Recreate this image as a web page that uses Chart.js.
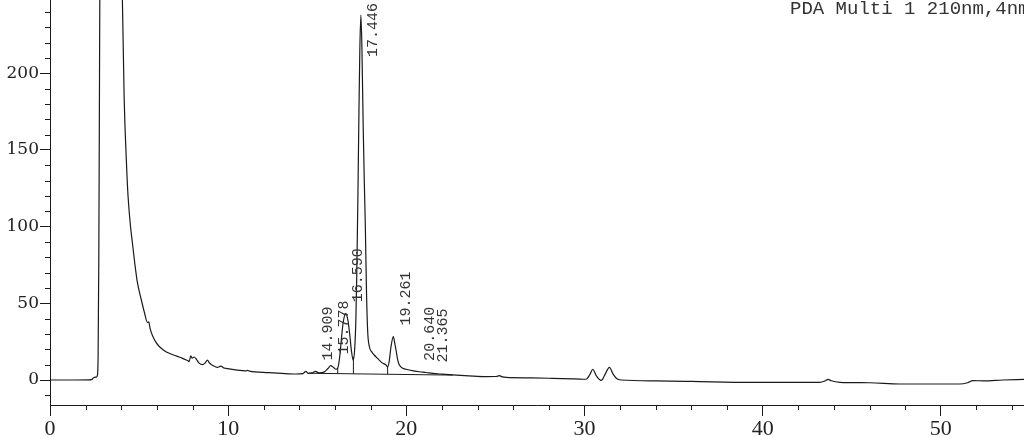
<!DOCTYPE html>
<html>
<head>
<meta charset="utf-8">
<script src="https://cdn.jsdelivr.net/npm/chart.js@4.4.1/dist/chart.umd.min.js"></script>
<style>
  html, body { margin: 0; padding: 0; background: #fff; }
  #wrap { width: 1024px; height: 437px; }
</style>
</head>
<body>
<div id="wrap"><canvas id="chart"></canvas></div>
<script>
// chromatogram trace, retention time (min) and signal (mAU)
const times = [0, 1.0, 2.2, 2.35, 2.45, 2.6, 2.66, 2.70, 2.74, 2.78, 2.82, 3.0, 3.3, 3.6, 3.85, 4.0, 4.06, 4.16, 4.29, 4.38,
  4.53, 4.62, 4.76, 4.9, 5.13, 5.3, 5.47, 5.54, 5.62, 5.75, 5.95, 6.12, 6.4, 6.69, 7.0, 7.25, 7.5, 7.62, 7.75, 7.81,
  7.9, 7.98, 8.08, 8.22, 8.37, 8.56, 8.7, 8.84, 8.95, 9.12, 9.4, 9.59, 9.75, 9.87, 10.4, 11.0, 11.08, 11.2, 12.3, 13.0,
  13.8, 14.2, 14.36, 14.5, 14.7, 14.9, 15.1, 15.4, 15.6, 15.76, 15.9, 16.05, 16.15, 16.25, 16.35, 16.45, 16.6, 16.72, 16.82, 16.92,
  17.02, 17.1, 17.17, 17.22, 17.28, 17.33, 17.39, 17.45, 17.51, 17.58, 17.64, 17.70, 17.76, 17.83, 17.92, 18.05, 18.2, 18.35, 18.48, 18.67,
  18.86, 18.95, 19.05, 19.14, 19.27, 19.35, 19.42, 19.52, 19.61, 19.8, 19.98, 20.4, 20.73, 21.1, 21.48, 22.0, 22.6, 23.5, 24.48, 25.05,
  25.22, 25.4, 25.6, 27.0, 28.2, 29.5, 30.1, 30.3, 30.47, 30.65, 30.94, 31.15, 31.4, 31.6, 31.8, 32.06, 34.0, 36.0, 39.27, 43.2,
  43.5, 43.67, 43.85, 44.33, 46.0, 47.7, 51.07, 51.5, 51.8, 52.4, 53.5, 54.67];
const signal = [0, 0, 0.1, 0.4, 1.5, 1.9, 3, 15, 80, 200, 320, 650, 800, 650, 420, 300, 250, 185, 142, 120,
  99, 90, 76, 64, 52, 44, 37.5, 38, 33.5, 29, 24.5, 22, 19.3, 17.4, 16, 15, 13.8, 13.2, 12.5, 11.9,
  15.8, 14.2, 15, 13.5, 11, 10, 11, 13, 11, 9.6, 8.2, 9.1, 7.9, 7.6, 6.6, 5.9, 6.3, 5.8, 4.8, 4.3,
  3.9, 4.2, 5.6, 4.3, 4.6, 5.6, 4.7, 5.3, 7.5, 9.4, 8.3, 7.0, 7.8, 14, 26, 37, 43.5, 39, 30, 19,
  13, 20, 40, 70, 117, 165, 215, 238, 215, 165, 130, 100, 60, 32, 22, 18.5, 16.3, 14.5, 13, 11,
  9.8, 8.5, 13, 21.7, 28.3, 24, 19.6, 13, 9.8, 7.6, 7, 6, 5.4, 4.9, 4.3, 3.8, 3.3, 2.7, 2.2, 2.3,
  2.8, 2.0, 1.7, 1.4, 1.1, 0.7, 0.5, 3.5, 7, 3, -0.3, 3.5, 8.3, 4, 1, 0, -0.6, -0.9, -1.5, -1.5,
  -0.6, 0.4, -0.5, -1.5, -1.8, -2.6, -2.6, -1.8, -0.4, -0.6, 0, 0.4];

// integrated peaks
const peakTimes = [14.909, 15.778, 16.590, 17.446, 19.261, 20.640, 21.365];
const peakHeights = [5.6, 9.4, 43.5, 238, 28.3, 5.3, 4.3];

// integration baseline and drop lines
const baselineTimes = [14.55, 22.6];
const baselineValues = [4.4, 3.2];
const dropTimes = [16.15, 17.03, 18.95];
const dropTops = [7.8, 15.2, 8.5];

const titleText = 'PDA Multi 1 210nm,4nm';

function baselineAt(t) {
  const f = (t - baselineTimes[0]) / (baselineTimes[1] - baselineTimes[0]);
  return baselineValues[0] + f * (baselineValues[1] - baselineValues[0]);
}

const tracePoints = times.map((t, i) => ({ x: t, y: signal[i] }));
const basePoints = baselineTimes.map((t, i) => ({ x: t, y: baselineValues[i] }));
const dropPoints = [];
dropTimes.forEach((t, i) => {
  dropPoints.push({ x: t, y: baselineAt(t) });
  dropPoints.push({ x: t, y: dropTops[i] });
  dropPoints.push({ x: t, y: null });
});

const ink = '#1a1a1a';

const minorTicks = {
  id: 'minorTicks',
  afterDraw(chart) {
    const ctx = chart.ctx;
    const xs = chart.scales.x, ys = chart.scales.y;
    ctx.save();
    ctx.strokeStyle = ink;
    ctx.lineWidth = 1;
    ctx.beginPath();
    for (let v = 2; v <= xs.max; v += 2) {
      if (v % 10 === 0) continue;
      const px = Math.round(xs.getPixelForValue(v)) + 0.5;
      ctx.moveTo(px, xs.top);
      ctx.lineTo(px, xs.top + 5);
    }
    for (let v = -10; v <= ys.max; v += 10) {
      if (v % 50 === 0) continue;
      const py = Math.round(ys.getPixelForValue(v)) + 0.5;
      ctx.moveTo(ys.right - 5, py);
      ctx.lineTo(ys.right, py);
    }
    ctx.stroke();
    ctx.restore();
  }
};

const peakLabels = {
  id: 'peakLabels',
  afterDatasetsDraw(chart) {
    const ctx = chart.ctx;
    const xs = chart.scales.x, ys = chart.scales.y;
    ctx.save();
    ctx.font = '15px "Liberation Mono", monospace';
    ctx.fillStyle = '#333';
    ctx.textAlign = 'left';
    ctx.textBaseline = 'top';
    peakTimes.forEach((t, i) => {
      const txt = t.toFixed(3);
      const w = ctx.measureText(txt).width;
      const px = xs.getPixelForValue(t) + 5;
      const py = Math.max(ys.getPixelForValue(peakHeights[i]) - 11, chart.chartArea.top + w + 3);
      ctx.save();
      ctx.translate(px, py);
      ctx.rotate(-Math.PI / 2);
      ctx.fillText(txt, 0, 0);
      ctx.restore();
    });
    // detector title, top right
    ctx.font = '19px "Liberation Mono", monospace';
    ctx.textBaseline = 'alphabetic';
    ctx.fillText(titleText, chart.chartArea.right - 234, 14);
    ctx.restore();
  }
};

new Chart(document.getElementById('chart'), {
  type: 'line',
  data: {
    datasets: [
      {
        label: 'PDA',
        data: tracePoints,
        borderColor: ink,
        borderWidth: 1.2,
        pointRadius: 0,
        cubicInterpolationMode: 'monotone'
      },
      {
        label: 'baseline',
        data: basePoints,
        borderColor: ink,
        borderWidth: 1,
        pointRadius: 0
      },
      {
        label: 'drops',
        data: dropPoints,
        borderColor: ink,
        borderWidth: 1,
        pointRadius: 0,
        spanGaps: false
      }
    ]
  },
  options: {
    animation: false,
    responsive: true,
    maintainAspectRatio: false,
    layout: { padding: 0 },
    plugins: {
      legend: { display: false },
      tooltip: { enabled: false }
    },
    scales: {
      x: {
        type: 'linear',
        min: 0,
        max: 54.67,
        border: { display: true, color: ink, width: 1 },
        grid: { drawOnChartArea: false, drawTicks: true, tickLength: 11, color: ink },
        ticks: {
          stepSize: 10,
          includeBounds: false,
          padding: 0,
          color: '#222',
          font: { family: '"Liberation Serif", serif', size: 22 },
          maxRotation: 0
        },
        afterFit(scale) {
          scale.height = 32;
          scale.paddingLeft = 0;
          scale.paddingRight = 0;
        }
      },
      y: {
        min: -16.3,
        max: 247.8,
        border: { display: true, color: ink, width: 1 },
        grid: { drawOnChartArea: false, drawTicks: true, tickLength: 10, color: ink },
        ticks: {
          stepSize: 50,
          includeBounds: false,
          padding: 1,
          color: '#222',
          font: { family: '"DejaVu Serif", serif', size: 17 }
        },
        afterFit(scale) {
          scale.width = 50;
          scale.paddingTop = 0;
          scale.paddingBottom = 0;
        }
      }
    }
  },
  plugins: [minorTicks, peakLabels]
});
</script>
</body>
</html>
